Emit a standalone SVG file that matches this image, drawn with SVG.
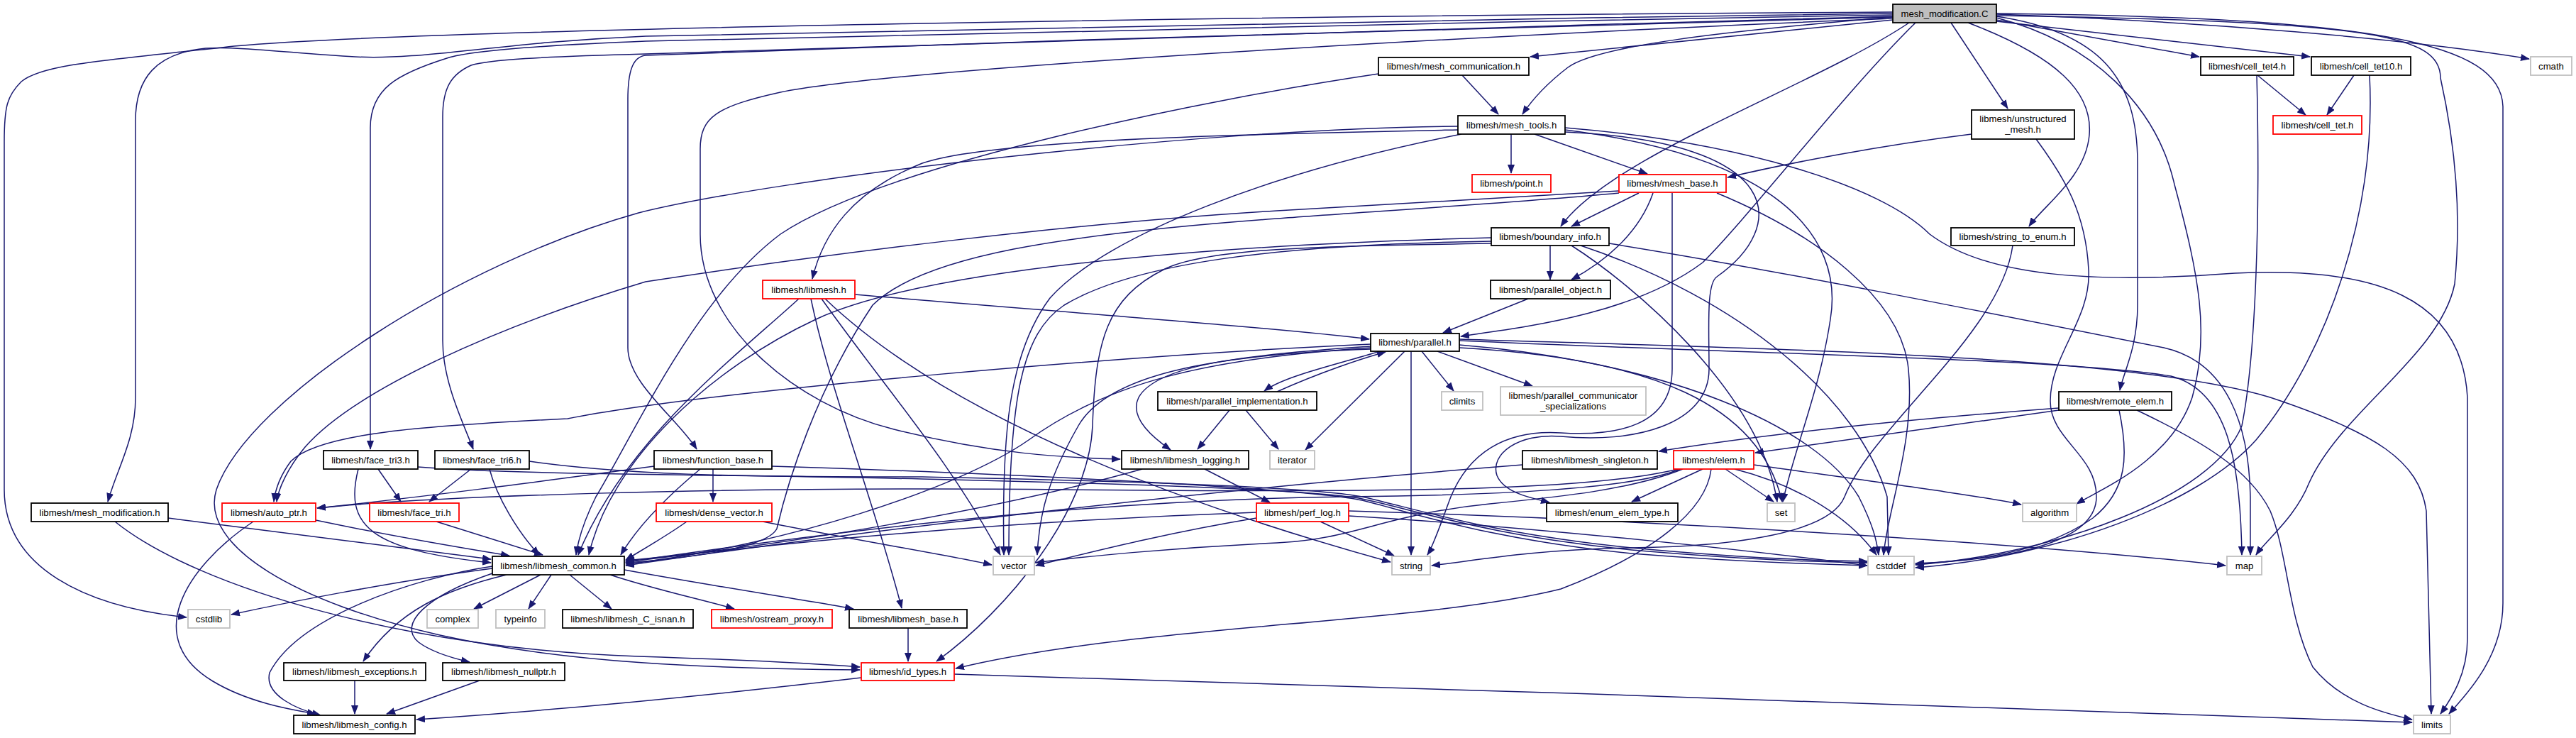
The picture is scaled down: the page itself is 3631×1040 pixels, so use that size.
<svg xmlns="http://www.w3.org/2000/svg" width="3631" height="1040" viewBox="0 0 3631 1040">
<defs>
<marker id="ah" markerUnits="userSpaceOnUse" markerWidth="13" markerHeight="10" refX="12" refY="5" orient="auto"><path d="M0,0 L13,5 L0,10 z" fill="#191970"/></marker>
<style>
.e path{fill:none;stroke:#191970;stroke-width:1.5;marker-end:url(#ah)}
.n rect{fill:#fff;stroke:#000;stroke-width:1.8}
.n.r rect{stroke:#ff0000}
.n.g rect{stroke:#bfbfbf}
#n0 rect{fill:#bfbfbf}
text{font-family:"Liberation Sans",Arial,Helvetica,sans-serif;font-size:13.2px;text-anchor:middle;fill:#000}
</style>
</defs>
<rect width="3631" height="1040" fill="#fff"/>
<g class="e" id="connectors">
<path d="M2668,28 L2157,80"/>
<path d="M2668,24 C2420,45 2250,65 2210,95 C2180,118 2160,140 2146,161"/>
<path d="M2750,32 L2830,153"/>
<path d="M2814,28 L3100,80"/>
<path d="M2814,30 L3256,80"/>
<path d="M2814,20 C3100,30 3400,55 3565,83"/>
<path d="M2774,32 C2900,80 2950,130 2945,190 C2940,250 2880,290 2860,319"/>
<path d="M2691,32 C2560,120 2270,220 2200,319"/>
<path d="M2814,23 C2960,45 3013,110 3013,230 L3013,430 C3013,490 2993,525 2988,550"/>
<path d="M2814,19 C3350,25 3525,60 3528,150 L3528,850 C3528,930 3470,985 3452,1006"/>
<path d="M2814,22 C3350,30 3440,50 3440,110 C3460,200 3470,300 3460,400 C3440,500 3300,580 3255,680 C3235,730 3195,760 3180,782"/>
<path d="M2814,25 C2950,60 3040,150 3065,260 C3100,390 3115,470 3090,560 C3060,650 2960,690 2927,710"/>
<path d="M2700,32 C2600,130 2470,300 2400,370 C2300,445 2140,462 2059,474"/>
<path d="M2668,26 C2300,40 1300,90 1100,130 C1010,150 987,165 987,210 L987,330 C987,460 1120,570 1260,605 C1400,640 1500,645 1579,647"/>
<path d="M2668,24 C2300,32 1500,55 910,78 C892,80 885,100 885,140 L885,490 C885,540 955,590 982,633"/>
<path d="M2668,21 C2000,33 1100,50 910,58 C760,64 660,72 630,82 C560,104 522,125 522,180 L522,633"/>
<path d="M2668,23 C2000,40 1200,70 910,76 C760,80 690,84 664,92 C635,105 624,125 624,165 L624,480 C624,540 655,600 667,633"/>
<path d="M2668,19 C2000,28 1200,42 910,51 C700,60 600,85 500,80 C420,76 340,65 290,68 C220,75 191,110 191,170 L191,560 C191,620 165,660 152,707"/>
<path d="M2668,17 C1800,22 600,40 330,65 C150,85 60,90 30,115 C10,135 6,150 6,200 L6,690 C6,800 120,855 263,870"/>
<path d="M2061,106 L2112,161"/>
<path d="M1943,104 C1700,140 1250,230 1100,330 C980,420 900,600 840,700 C825,730 815,760 812,782"/>
<path d="M3182,106 L3250,162"/>
<path d="M3318,106 L3280,162"/>
<path d="M3181,106 C3186,300 3180,500 3160,600 C3120,700 2900,780 2700,796"/>
<path d="M3340,106 C3350,300 3280,500 3180,620 C3100,710 2900,785 2700,800"/>
<path d="M2779,189 C2650,205 2520,230 2435,250"/>
<path d="M2870,196 C2910,250 2940,300 2944,380 C2948,450 2890,500 2890,565 C2890,620 2955,640 2955,700 C2955,760 2850,788 2700,794"/>
<path d="M2130,189 L2130,244"/>
<path d="M2163,189 L2322,245"/>
<path d="M2055,183 C1800,188 1400,195 1300,230 C1200,270 1160,330 1145,393"/>
<path d="M2055,178 C1700,180 1100,250 900,300 C650,370 350,560 305,690 C280,770 420,850 620,895 C800,935 1000,942 1212,944"/>
<path d="M2060,189 C1800,240 1560,330 1480,420 C1420,500 1412,620 1415,782"/>
<path d="M2206,186 C2520,200 2520,320 2420,390 C2405,400 2409,460 2409,520 C2409,600 2300,625 2200,615 C2140,610 2100,640 2110,670 C2120,695 2160,702 2184,708"/>
<path d="M2206,183 C2500,220 2600,330 2580,450 C2565,550 2530,630 2513,707"/>
<path d="M2206,180 C2450,200 2650,260 2720,330 C2800,390 2950,400 3150,385 C3350,375 3470,420 3478,560 L3478,900 C3478,950 3455,985 3440,1006"/>
<path d="M2310,272 L2215,319"/>
<path d="M2330,272 C2310,330 2260,370 2215,394"/>
<path d="M2357,272 L2357,520 C2357,600 2280,615 2200,610 C2120,605 2070,640 2045,700 C2030,740 2020,770 2012,782"/>
<path d="M2420,272 C2560,330 2680,420 2690,520 C2700,620 2660,720 2655,782"/>
<path d="M2282,269 C2150,278 1900,290 1800,297 C1500,315 1150,360 910,397 C700,460 500,550 430,630 C405,660 392,690 390,707"/>
<path d="M2282,272 C2150,285 1900,300 1800,308 C1500,330 1300,360 1230,430 C1150,550 1110,680 1095,745 C1080,775 950,788 882,793"/>
<path d="M2185,346 L2185,394"/>
<path d="M2102,335 C1700,345 1300,380 1150,450 C1000,520 860,650 830,782"/>
<path d="M2102,340 C1800,345 1600,370 1500,430 C1440,470 1422,560 1422,782"/>
<path d="M2102,343 C1850,347 1700,350 1640,380 C1560,420 1544,480 1540,600 C1535,720 1420,860 1320,932"/>
<path d="M2215,346 C2300,400 2480,550 2505,707"/>
<path d="M2268,343 C2500,380 2800,440 3050,490 C3140,510 3170,600 3172,700 L3172,782"/>
<path d="M2228,346 C2450,420 2620,560 2660,700 L2662,782"/>
<path d="M2837,346 C2820,470 2640,600 2600,700 C2580,750 2450,770 2300,772 C2150,775 2080,790 2018,797"/>
<path d="M1205,415 C1500,440 1800,462 1930,478"/>
<path d="M1126,421 C1040,500 880,620 815,782"/>
<path d="M1143,421 C1170,550 1230,700 1271,857"/>
<path d="M1158,421 C1250,550 1340,650 1410,782"/>
<path d="M1163,421 C1350,600 1700,720 1960,792"/>
<path d="M2154,421 L2034,469"/>
<path d="M1945,495 C1880,515 1810,530 1782,551"/>
<path d="M1800,552 C1860,525 1920,505 1953,496"/>
<path d="M2004,495 L2049,551"/>
<path d="M2026,495 L2160,544"/>
<path d="M1980,495 L1840,634"/>
<path d="M1989,495 L1989,782"/>
<path d="M1932,488 C1750,500 1630,515 1605,560 C1590,590 1630,620 1650,634"/>
<path d="M1932,485 C1600,500 1000,550 800,590 C600,600 450,610 410,650 C395,670 388,690 386,707"/>
<path d="M1932,490 C1700,505 1560,540 1450,620 C1350,690 1100,770 882,795"/>
<path d="M1932,492 C1700,500 1560,530 1520,600 C1480,670 1465,720 1462,782"/>
<path d="M2057,490 C2330,505 2480,570 2512,707"/>
<path d="M2057,486 C2350,510 2560,600 2620,700 C2640,740 2645,760 2648,782"/>
<path d="M2057,480 C2500,500 2900,505 3060,530 C3140,550 3158,650 3160,782"/>
<path d="M2057,478 C2500,492 3000,500 3200,560 C3350,610 3410,650 3420,720 L3427,1006"/>
<path d="M1733,578 L1688,633"/>
<path d="M1756,578 L1802,633"/>
<path d="M2902,575 C2700,590 2500,610 2338,636"/>
<path d="M2902,578 C2750,600 2600,620 2474,638"/>
<path d="M2987,578 C3000,640 3000,690 2950,730 C2880,780 2780,790 2700,795"/>
<path d="M3012,578 C3100,620 3170,660 3200,720 C3225,780 3225,870 3260,940 C3300,990 3360,1005 3400,1014"/>
<path d="M2400,661 L2300,707"/>
<path d="M2432,661 L2500,707"/>
<path d="M2445,661 C2520,680 2600,720 2645,782"/>
<path d="M2472,655 C2650,680 2800,700 2849,711"/>
<path d="M2368,661 C2300,690 2100,698 1900,700 C1500,704 1100,760 882,792"/>
<path d="M2412,661 C2405,720 2330,780 2200,830 C2000,880 1600,880 1347,942"/>
<path d="M2365,661 C2250,690 2000,695 1500,690 C1000,685 600,700 447,716"/>
<path d="M2372,661 C2300,690 2200,700 2100,710 C1950,725 1910,760 1800,765 C1650,772 1520,785 1460,793"/>
<path d="M2146,655 C1700,690 1200,750 882,797"/>
<path d="M1698,661 L1790,708"/>
<path d="M1610,661 C1400,720 1100,770 882,790"/>
<path d="M1005,661 L1005,707"/>
<path d="M922,657 C750,680 600,700 447,716"/>
<path d="M987,661 C940,700 900,740 875,782"/>
<path d="M1088,657 C1500,670 1850,690 1920,705 C2000,725 2100,760 2300,780 C2450,792 2550,795 2632,797"/>
<path d="M533,661 L565,707"/>
<path d="M505,661 C485,740 520,775 692,793"/>
<path d="M589,658 C750,670 1000,668 1300,675 C1600,682 1850,690 1920,703 C2000,720 2100,755 2300,775 C2450,788 2550,792 2632,793"/>
<path d="M664,661 L605,707"/>
<path d="M690,661 C700,700 730,750 760,782"/>
<path d="M746,650 C900,672 1100,672 1300,672 C1600,678 1850,686 1920,700 C2000,718 2100,752 2300,772 C2450,786 2550,790 2632,791"/>
<path d="M615,735 L765,782"/>
<path d="M445,733 C550,755 650,772 718,783"/>
<path d="M357,735 C260,800 200,900 300,960 C350,990 410,1000 445,1006"/>
<path d="M237,730 C400,750 550,770 692,788"/>
<path d="M162,735 C280,830 580,915 900,925 C1050,930 1150,935 1212,940"/>
<path d="M968,735 C940,755 905,775 882,789"/>
<path d="M1075,735 C1200,760 1350,785 1398,796"/>
<path d="M1771,730 C1650,750 1550,775 1460,797"/>
<path d="M1861,735 L1965,783"/>
<path d="M1901,720 C2400,735 2900,770 3137,797"/>
<path d="M1901,727 C2200,745 2500,780 2632,797"/>
<path d="M1771,722 C1400,735 1100,765 882,792"/>
<path d="M694,801 C550,820 400,850 326,866"/>
<path d="M762,810 L668,858"/>
<path d="M777,810 L745,858"/>
<path d="M803,810 L862,858"/>
<path d="M860,810 C920,830 990,845 1035,858"/>
<path d="M880,803 C1000,825 1150,848 1203,858"/>
<path d="M714,810 C630,830 560,860 512,932"/>
<path d="M694,808 C600,840 560,880 590,905 C610,920 640,928 662,933"/>
<path d="M694,798 C580,815 420,870 380,948 C372,980 420,1000 452,1008"/>
<path d="M1280,885 L1280,932"/>
<path d="M500,959 L500,1006"/>
<path d="M676,959 L545,1006"/>
<path d="M1214,955 C1000,980 800,1000 587,1014"/>
<path d="M1345,950 C2000,970 2800,995 3400,1018"/>
</g>
<g id="n0" class="n"><rect x="2668" y="6" width="146" height="26"/><text x="2741" y="23.6">mesh_modification.C</text></g>
<g id="n1" class="n"><rect x="1943" y="81" width="212" height="25"/><text x="2049" y="98.1">libmesh/mesh_communication.h</text></g>
<g id="n2" class="n"><rect x="3102" y="80" width="131" height="26"/><text x="3167.5" y="97.6">libmesh/cell_tet4.h</text></g>
<g id="n3" class="n"><rect x="3258" y="80" width="140" height="26"/><text x="3328" y="97.6">libmesh/cell_tet10.h</text></g>
<g id="n4" class="n g"><rect x="3567" y="80" width="58" height="26"/><text x="3596" y="97.6">cmath</text></g>
<g id="n5" class="n"><rect x="2055" y="163" width="151" height="26"/><text x="2130.5" y="180.6">libmesh/mesh_tools.h</text></g>
<g id="n6" class="n"><rect x="2779" y="155" width="145" height="41"/><text x="2851.5" y="172.3">libmesh/unstructured</text><text x="2851.5" y="187.3">_mesh.h</text></g>
<g id="n7" class="n r"><rect x="3204" y="163" width="125" height="26"/><text x="3266.5" y="180.6">libmesh/cell_tet.h</text></g>
<g id="n8" class="n r"><rect x="2075" y="246" width="111" height="25"/><text x="2130.5" y="263.1">libmesh/point.h</text></g>
<g id="n9" class="n r"><rect x="2282" y="246" width="151" height="25"/><text x="2357.5" y="263.1">libmesh/mesh_base.h</text></g>
<g id="n10" class="n"><rect x="2102" y="321" width="166" height="25"/><text x="2185" y="338.1">libmesh/boundary_info.h</text></g>
<g id="n11" class="n"><rect x="2750" y="321" width="174" height="25"/><text x="2837" y="338.1">libmesh/string_to_enum.h</text></g>
<g id="n12" class="n r"><rect x="1075" y="395" width="130" height="26"/><text x="1140" y="412.6">libmesh/libmesh.h</text></g>
<g id="n13" class="n"><rect x="2101" y="395" width="169" height="26"/><text x="2185.5" y="412.6">libmesh/parallel_object.h</text></g>
<g id="n14" class="n"><rect x="1932" y="470" width="125" height="25"/><text x="1994.5" y="487.1">libmesh/parallel.h</text></g>
<g id="n15" class="n"><rect x="1632" y="552" width="224" height="26"/><text x="1744" y="569.6">libmesh/parallel_implementation.h</text></g>
<g id="n16" class="n g"><rect x="2032" y="552" width="58" height="26"/><text x="2061" y="569.6">climits</text></g>
<g id="n17" class="n g"><rect x="2115" y="545" width="205" height="40"/><text x="2217.5" y="561.5">libmesh/parallel_communicator</text><text x="2217.5" y="576.5">_specializations</text></g>
<g id="n18" class="n"><rect x="2902" y="552" width="159" height="26"/><text x="2981.5" y="569.6">libmesh/remote_elem.h</text></g>
<g id="n19" class="n"><rect x="456" y="635" width="133" height="26"/><text x="522.5" y="652.6">libmesh/face_tri3.h</text></g>
<g id="n20" class="n"><rect x="613" y="635" width="133" height="26"/><text x="679.5" y="652.6">libmesh/face_tri6.h</text></g>
<g id="n21" class="n"><rect x="922" y="635" width="166" height="26"/><text x="1005" y="652.6">libmesh/function_base.h</text></g>
<g id="n22" class="n"><rect x="1581" y="635" width="179" height="26"/><text x="1670.5" y="652.6">libmesh/libmesh_logging.h</text></g>
<g id="n23" class="n g"><rect x="1790" y="635" width="63" height="26"/><text x="1821.5" y="652.6">iterator</text></g>
<g id="n24" class="n"><rect x="2146" y="635" width="190" height="26"/><text x="2241" y="652.6">libmesh/libmesh_singleton.h</text></g>
<g id="n25" class="n r"><rect x="2359" y="635" width="113" height="26"/><text x="2415.5" y="652.6">libmesh/elem.h</text></g>
<g id="n26" class="n"><rect x="44" y="709" width="193" height="26"/><text x="140.5" y="726.6">libmesh/mesh_modification.h</text></g>
<g id="n27" class="n r"><rect x="313" y="709" width="132" height="26"/><text x="379" y="726.6">libmesh/auto_ptr.h</text></g>
<g id="n28" class="n r"><rect x="521" y="709" width="126" height="26"/><text x="584" y="726.6">libmesh/face_tri.h</text></g>
<g id="n29" class="n r"><rect x="925" y="709" width="163" height="26"/><text x="1006.5" y="726.6">libmesh/dense_vector.h</text></g>
<g id="n30" class="n r"><rect x="1771" y="709" width="130" height="26"/><text x="1836" y="726.6">libmesh/perf_log.h</text></g>
<g id="n31" class="n"><rect x="2180" y="709" width="185" height="26"/><text x="2272.5" y="726.6">libmesh/enum_elem_type.h</text></g>
<g id="n32" class="n g"><rect x="2491" y="709" width="39" height="26"/><text x="2510.5" y="726.6">set</text></g>
<g id="n33" class="n g"><rect x="2851" y="709" width="76" height="26"/><text x="2889" y="726.6">algorithm</text></g>
<g id="n34" class="n"><rect x="694" y="784" width="186" height="26"/><text x="787" y="801.6">libmesh/libmesh_common.h</text></g>
<g id="n35" class="n g"><rect x="1400" y="784" width="58" height="26"/><text x="1429" y="801.6">vector</text></g>
<g id="n36" class="n g"><rect x="1962" y="784" width="54" height="26"/><text x="1989" y="801.6">string</text></g>
<g id="n37" class="n g"><rect x="2633" y="784" width="65" height="26"/><text x="2665.5" y="801.6">cstddef</text></g>
<g id="n38" class="n g"><rect x="3139" y="784" width="49" height="26"/><text x="3163.5" y="801.6">map</text></g>
<g id="n39" class="n g"><rect x="265" y="859" width="59" height="26"/><text x="294.5" y="876.6">cstdlib</text></g>
<g id="n40" class="n g"><rect x="602" y="859" width="72" height="26"/><text x="638" y="876.6">complex</text></g>
<g id="n41" class="n g"><rect x="699" y="859" width="69" height="26"/><text x="733.5" y="876.6">typeinfo</text></g>
<g id="n42" class="n"><rect x="793" y="859" width="184" height="26"/><text x="885" y="876.6">libmesh/libmesh_C_isnan.h</text></g>
<g id="n43" class="n r"><rect x="1003" y="859" width="170" height="26"/><text x="1088" y="876.6">libmesh/ostream_proxy.h</text></g>
<g id="n44" class="n"><rect x="1197" y="859" width="166" height="26"/><text x="1280" y="876.6">libmesh/libmesh_base.h</text></g>
<g id="n45" class="n"><rect x="400" y="934" width="200" height="25"/><text x="500" y="951.1">libmesh/libmesh_exceptions.h</text></g>
<g id="n46" class="n"><rect x="624" y="934" width="172" height="25"/><text x="710" y="951.1">libmesh/libmesh_nullptr.h</text></g>
<g id="n47" class="n r"><rect x="1214" y="934" width="131" height="25"/><text x="1279.5" y="951.1">libmesh/id_types.h</text></g>
<g id="n48" class="n"><rect x="414" y="1008" width="171" height="26"/><text x="499.5" y="1025.6">libmesh/libmesh_config.h</text></g>
<g id="n49" class="n g"><rect x="3402" y="1008" width="52" height="26"/><text x="3428" y="1025.6">limits</text></g>
</svg>
